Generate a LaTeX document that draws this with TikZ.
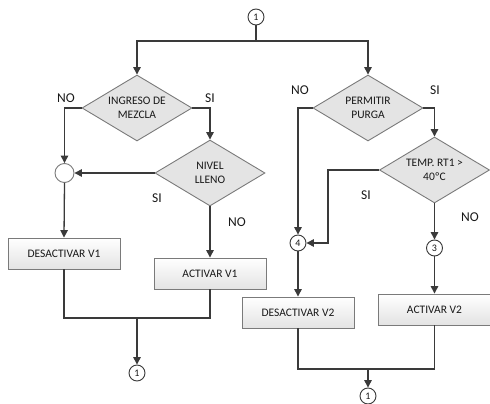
\documentclass[tikz,border=0pt]{standalone}
\usepackage{fontspec}
\setmainfont{Carlito}
\usetikzlibrary{shapes.geometric,arrows.meta,shadows}
\definecolor{linec}{HTML}{3A3A3A}
\definecolor{edgec}{HTML}{7A7A7A}
\definecolor{dfill}{HTML}{E4E4E4}
\begin{document}
\begin{tikzpicture}[x=1pt,y=-1pt,
  every node/.style={font=\fontsize{11.5}{14.5}\selectfont, text=black!90},
  decision/.style={shape=diamond, draw=edgec, fill=dfill, line width=0.9pt,
    minimum width=110pt, minimum height=66pt, inner sep=0pt, aspect=1.67, align=center},
  action/.style={rectangle, draw=edgec, line width=0.9pt, top color=white, bottom color=black!11,
    minimum width=112pt, minimum height=31pt, inner sep=0pt,
    drop shadow={opacity=0.15, shadow xshift=1pt, shadow yshift=-1pt}},
  conn/.style={circle, draw=linec, fill=white, line width=0.9pt, minimum size=16pt, inner sep=0pt,
    font=\fontsize{10}{10}\selectfont},
  joint/.style={circle, draw=edgec, fill=white, line width=0.9pt, minimum size=19pt, inner sep=0pt},
  flow/.style={draw=linec, line width=1.3pt, -{Triangle[length=7.5pt,width=7.5pt]}},
  plain/.style={draw=linec, line width=1.3pt},
  tag/.style={font=\fontsize{13.5}{13.5}\selectfont}]
\useasboundingbox (0,0) rectangle (490,404);

% start connector and split
\node[conn] (c1) at (256,17) {1};
\coordinate (split) at (256,41);

% left branch
\node[decision] (ing) at (137,108) {INGRESO DE\\MEZCLA};
\node[decision] (niv) at (210,173) {NIVEL\\LLENO};
\node[joint] (mrg) at (64.5,173) {};
\node[action] (des1) at (64,253.5) {DESACTIVAR V1};
\node[action] (act1) at (210,273.5) {ACTIVAR V1};
\coordinate (j1) at (137,318);
\node[conn] (e1) at (137,373) {1};

% right branch
\node[decision] (pur) at (368,108) {PERMITIR\\PURGA};
\node[decision] (tmp) at (434.5,170) {TEMP. RT1 >\\40ºC};
\node[conn] (c4) at (298,243) {4};
\node[conn] (c3) at (434.5,248) {3};
\node[action] (des2) at (298,312.5) {DESACTIVAR V2};
\node[action] (act2) at (434.5,309.5) {ACTIVAR V2};
\coordinate (j2) at (368,369);
\node[conn] (e2) at (368,396) {1};

% top split
\draw[plain] (c1) -- (split);
\draw[flow] (split) -| (ing.north);
\draw[flow] (split) -| (pur.north);

% left branch connectors
\draw[flow] (ing.west) -| (mrg.north);
\draw[flow] (ing.east) -| (niv.north);
\draw[flow] (niv.west) -- (mrg.east);
\draw[flow] (mrg.south) -- (des1.north);
\draw[flow] (niv.south) -- (act1.north);
\draw[plain] (des1.south) |- (j1) -| (act1.south);
\draw[flow] (j1) -- (e1.north);

% right branch connectors
\draw[flow] (pur.west) -| (c4.north);
\draw[flow] (pur.east) -| (tmp.north);
\draw[flow] (tmp.west) -| (328,243) -- (c4.east);
\draw[flow] (tmp.south) -- (c3.north);
\draw[flow] (c4.south) -- (des2.north);
\draw[flow] (c3.south) -- (act2.north);
\draw[plain] (des2.south) |- (j2) -| (act2.south);
\draw[flow] (j2) -- (e2.north);

% branch labels
\node[tag] (l1) at (66,98) {NO};
\node[tag] (l2) at (210,98) {SI};
\node[tag] (l3) at (157,198) {SI};
\node[tag] (l4) at (237,222) {NO};
\node[tag] (l5) at (300,90) {NO};
\node[tag] (l6) at (435,90) {SI};
\node[tag] (l7) at (366,195) {SI};
\node[tag] (l8) at (470,217) {NO};
\end{tikzpicture}
\end{document}
